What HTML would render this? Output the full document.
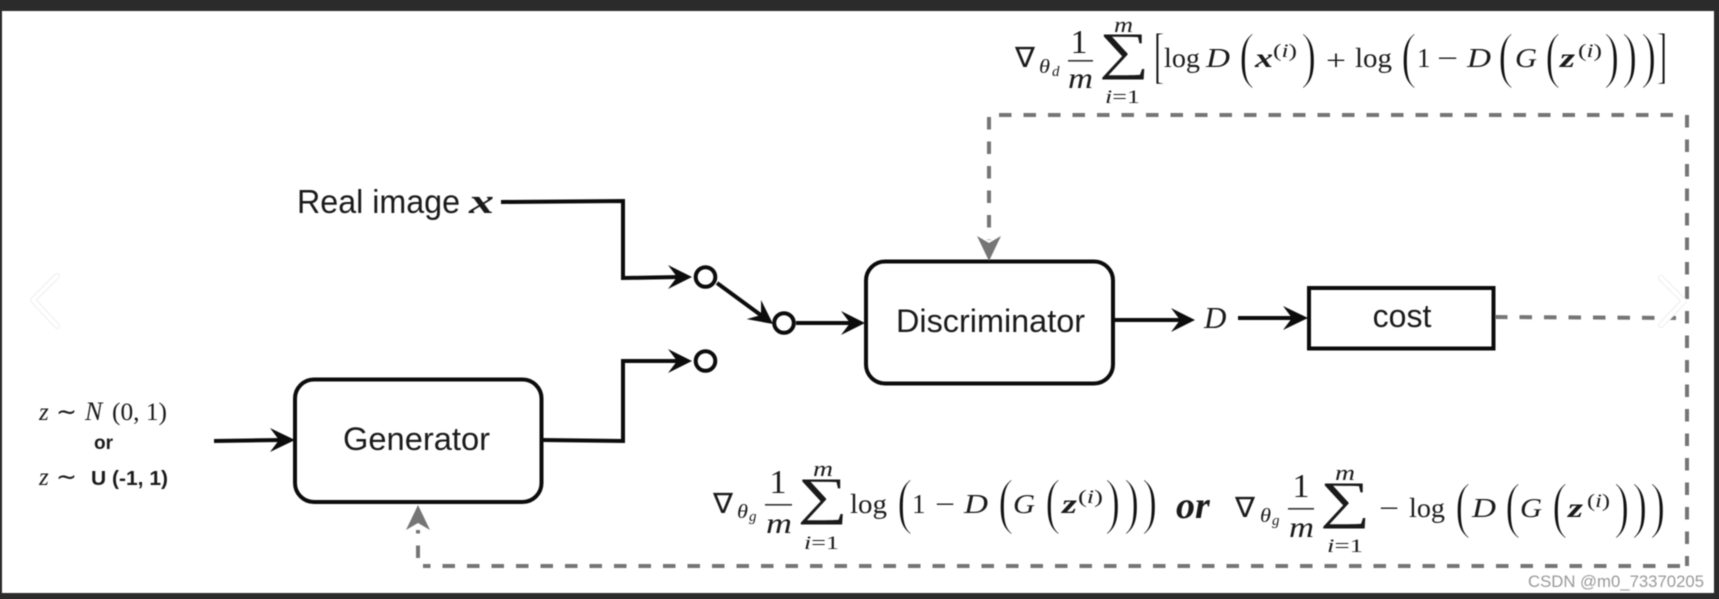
<!DOCTYPE html>
<html><head><meta charset="utf-8"><style>
html,body{margin:0;padding:0;background:#2b2b2b;width:1719px;height:599px;overflow:hidden}
svg{display:block;position:absolute;left:0;top:0;filter:blur(.45px)}
text{font-family:"Liberation Serif",serif;fill:#1a1a1a}
.s{font-family:"Liberation Sans",sans-serif}
.i{font-style:italic}
.bi{font-style:italic;font-weight:bold}
.l{fill:none;stroke:#0c0c0c;stroke-width:4}
.d{fill:none;stroke:#757575;stroke-width:4;stroke-dasharray:12.5 12}
.p{font-size:62px;fill:#111;stroke:#fff;stroke-width:1.6px}
.f{font-size:27px}
.v{font-size:28px}
.n{font-size:30px;font-style:italic}
.o{font-size:34px}
.t{font-size:22px;font-style:italic}
.u{font-size:19px}
.q{font-size:19px}
</style></head><body>
<svg width="1719" height="599" viewBox="0 0 1719 599" xmlns="http://www.w3.org/2000/svg">
<rect x="2" y="11" width="1712" height="582" fill="#fff"/>

<!-- chevrons -->
<g fill="none" stroke-linecap="round" stroke-linejoin="round">
<path d="M57 276 L33 300 L57 326" stroke="#eee" stroke-width="6"/>
<path d="M57 276 L33 300 L57 326" stroke="#fff" stroke-width="4"/>
</g>

<!-- boxes -->
<rect x="295" y="379.500" width="246.500" height="122.500" rx="19" fill="#fff" stroke="#0c0c0c" stroke-width="4"/>
<rect x="866" y="261.500" width="247" height="122" rx="19" fill="#fff" stroke="#0c0c0c" stroke-width="4"/>
<rect x="1309" y="288" width="184.500" height="60.500" fill="#fff" stroke="#0c0c0c" stroke-width="4"/>
<text class="s" x="343" y="450" font-size="32" textLength="147" lengthAdjust="spacingAndGlyphs">Generator</text>
<text class="s" x="896" y="332" font-size="32" textLength="189" lengthAdjust="spacingAndGlyphs">Discriminator</text>
<text class="s" x="1402" y="327" font-size="32" text-anchor="middle">cost</text>
<text class="s" x="297" y="213" font-size="33" textLength="163" lengthAdjust="spacingAndGlyphs">Real image</text>
<text class="bi" x="469" y="213" font-size="35" textLength="25" lengthAdjust="spacingAndGlyphs">x</text>
<text class="i" x="1204" y="328" font-size="31">D</text>

<!-- solid connectors -->
<path class="l" d="M501 202 L623 201 V278 L680 277"/>
<path class="l" d="M542 440 L623 441 V361 L680 361"/>
<path class="l" d="M214 441 L282 440"/>
<path class="l" d="M717 283 L762 316"/>
<path class="l" d="M796 323 L850 323"/>
<path class="l" d="M1113 320 L1182 320"/>
<path class="l" d="M1238 318 L1295 318"/>
<g fill="#0c0c0c">
<polygon points="692,277 668,265 677,277 668,289"/>
<polygon points="692,361 668,349 677,361 668,373"/>
<polygon points="295,440 270,428 279,440 270,452"/>
<polygon points="865,323 841,311 850,323 841,335"/>
<polygon points="1195,320 1171,308 1180,320 1171,332"/>
<polygon points="1308,318 1283,306 1292,318 1283,330"/>
<polygon points="773,324 749,312 758,324 749,336" transform="rotate(37 773 324)"/>
</g>
<g fill="#fff" stroke="#0c0c0c" stroke-width="4">
<circle cx="705.500" cy="277" r="9.800"/>
<circle cx="784" cy="323" r="9.800"/>
<circle cx="705.500" cy="361" r="9.800"/>
</g>

<!-- dashed connectors -->
<path class="d" d="M1495 317 L1676 318"/>
<path class="d" d="M1673 115 L997 115"/>
<path class="d" d="M989 117 V240"/>
<path class="d" d="M1687 115 V566"/>
<path class="d" d="M1680 566 L423 566"/>
<path class="d" d="M418 558 V530"/>
<g fill="#757575">
<polygon points="989,261 977,236 989,243 1001,236"/>
<polygon points="418,505 406,530 418,523 430,530"/>
</g>
<g fill="none" stroke-linecap="round" stroke-linejoin="round">
<path d="M1661 278 L1684 301 L1661 325" stroke="#eee" stroke-width="6"/>
<path d="M1661 278 L1684 301 L1661 325" stroke="#fff" stroke-width="4"/>
</g>

<!-- left formula -->
<text class="i" x="39" y="420" font-size="25">z</text>
<text x="56" y="420" font-size="25">∼</text>
<text class="i" x="85" y="420" font-size="26">N</text>
<text x="112" y="420" font-size="25" textLength="55" lengthAdjust="spacingAndGlyphs">(0, 1)</text>
<text class="s" x="103.500" y="449" font-size="19" font-weight="bold" text-anchor="middle">or</text>
<text class="i" x="39" y="485" font-size="25">z</text>
<text x="56" y="485" font-size="25">∼</text>
<text class="s" x="91" y="485" font-size="20" font-weight="bold" textLength="77" lengthAdjust="spacingAndGlyphs">U (-1, 1)</text>

<!-- top formula -->
<text class="v" x="1015" y="67" textLength="20" lengthAdjust="spacingAndGlyphs">∇</text>
<text class="i" x="1039" y="73" font-size="20" textLength="11" lengthAdjust="spacingAndGlyphs">θ</text>
<text class="i" x="1052" y="76" font-size="15">d</text>
<text class="o" x="1079" y="53" text-anchor="middle">1</text>
<rect x="1068" y="60" width="25" height="1.600" fill="#333"/>
<text class="n" x="1068" y="88" textLength="25" lengthAdjust="spacingAndGlyphs">m</text>
<text font-size="52" text-anchor="middle" transform="translate(1124 68.500) scale(1.35 1)">∑</text>
<text class="t" x="1114" y="32" textLength="19" lengthAdjust="spacingAndGlyphs">m</text>
<text class="u" x="1105" y="103" textLength="35" lengthAdjust="spacingAndGlyphs"><tspan class="i">i</tspan>=1</text>
<text class="p" x="1153" y="76" textLength="13" lengthAdjust="spacingAndGlyphs">[</text>
<text class="f" x="1164" y="67" textLength="36" lengthAdjust="spacingAndGlyphs">log</text>
<text class="f i" x="1206" y="67" textLength="24" lengthAdjust="spacingAndGlyphs">D</text>
<text class="p" x="1239" y="76" textLength="15.500" lengthAdjust="spacingAndGlyphs">(</text>
<text class="f bi" x="1255" y="67" textLength="18" lengthAdjust="spacingAndGlyphs">x</text>
<text class="q" x="1273" y="57" textLength="24" lengthAdjust="spacingAndGlyphs">(<tspan class="i">i</tspan>)</text>
<text class="p" x="1301" y="76" textLength="15.500" lengthAdjust="spacingAndGlyphs">)</text>
<text x="1326" y="70" font-size="29" textLength="20" lengthAdjust="spacingAndGlyphs">+</text>
<text class="f" x="1355" y="67" textLength="37" lengthAdjust="spacingAndGlyphs">log</text>
<text class="p" x="1401" y="76" textLength="15.500" lengthAdjust="spacingAndGlyphs">(</text>
<text class="f" x="1417" y="67">1</text>
<text class="f" x="1437" y="67" textLength="21" lengthAdjust="spacingAndGlyphs">−</text>
<text class="f i" x="1467" y="67" textLength="24" lengthAdjust="spacingAndGlyphs">D</text>
<text class="p" x="1498" y="76" textLength="15.500" lengthAdjust="spacingAndGlyphs">(</text>
<text class="f i" x="1515" y="67" textLength="22" lengthAdjust="spacingAndGlyphs">G</text>
<text class="p" x="1545" y="76" textLength="15.500" lengthAdjust="spacingAndGlyphs">(</text>
<text class="f bi" x="1560" y="67" textLength="15" lengthAdjust="spacingAndGlyphs">z</text>
<text class="q" x="1578" y="57" textLength="24" lengthAdjust="spacingAndGlyphs">(<tspan class="i">i</tspan>)</text>
<text class="p" x="1604" y="76" textLength="15.500" lengthAdjust="spacingAndGlyphs">)</text>
<text class="p" x="1622" y="76" textLength="15.500" lengthAdjust="spacingAndGlyphs">)</text>
<text class="p" x="1641" y="76" textLength="15.500" lengthAdjust="spacingAndGlyphs">)</text>
<text class="p" x="1655" y="76" textLength="13" lengthAdjust="spacingAndGlyphs">]</text>

<!-- bottom formula left -->
<text class="v" x="713" y="513" textLength="20" lengthAdjust="spacingAndGlyphs">∇</text>
<text class="i" x="737" y="518" font-size="20" textLength="11" lengthAdjust="spacingAndGlyphs">θ</text>
<text class="i" x="749" y="521" font-size="15">g</text>
<text class="o" x="778" y="493" text-anchor="middle">1</text>
<rect x="765" y="504" width="27" height="1.600" fill="#333"/>
<text class="n" x="766" y="533" textLength="26" lengthAdjust="spacingAndGlyphs">m</text>
<text font-size="52" text-anchor="middle" transform="translate(822.500 513.500) scale(1.35 1)">∑</text>
<text class="t" x="813" y="476" textLength="20" lengthAdjust="spacingAndGlyphs">m</text>
<text class="u" x="804" y="549" textLength="35" lengthAdjust="spacingAndGlyphs"><tspan class="i">i</tspan>=1</text>
<text class="f" x="850" y="513" textLength="37" lengthAdjust="spacingAndGlyphs">log</text>
<text class="p" x="897" y="522" textLength="15.500" lengthAdjust="spacingAndGlyphs">(</text>
<text class="f" x="912" y="513">1</text>
<text class="f" x="935" y="513" textLength="20" lengthAdjust="spacingAndGlyphs">−</text>
<text class="f i" x="964" y="513" textLength="24" lengthAdjust="spacingAndGlyphs">D</text>
<text class="p" x="998" y="522" textLength="15.500" lengthAdjust="spacingAndGlyphs">(</text>
<text class="f i" x="1013" y="513" textLength="22" lengthAdjust="spacingAndGlyphs">G</text>
<text class="p" x="1045" y="522" textLength="15.500" lengthAdjust="spacingAndGlyphs">(</text>
<text class="f bi" x="1062" y="513" textLength="15" lengthAdjust="spacingAndGlyphs">z</text>
<text class="q" x="1078" y="503" textLength="25" lengthAdjust="spacingAndGlyphs">(<tspan class="i">i</tspan>)</text>
<text class="p" x="1105" y="522" textLength="15.500" lengthAdjust="spacingAndGlyphs">)</text>
<text class="p" x="1124" y="522" textLength="15.500" lengthAdjust="spacingAndGlyphs">)</text>
<text class="p" x="1142" y="522" textLength="15.500" lengthAdjust="spacingAndGlyphs">)</text>
<text class="bi" x="1176" y="518" font-size="38">or</text>

<!-- bottom formula right -->
<text class="v" x="1235" y="517" textLength="20" lengthAdjust="spacingAndGlyphs">∇</text>
<text class="i" x="1260" y="522" font-size="20" textLength="11" lengthAdjust="spacingAndGlyphs">θ</text>
<text class="i" x="1272" y="525" font-size="15">g</text>
<text class="o" x="1301" y="497" text-anchor="middle">1</text>
<rect x="1288" y="508" width="26" height="1.600" fill="#333"/>
<text class="n" x="1289" y="537" textLength="25" lengthAdjust="spacingAndGlyphs">m</text>
<text font-size="52" text-anchor="middle" transform="translate(1345 517.500) scale(1.35 1)">∑</text>
<text class="t" x="1335" y="480" textLength="20" lengthAdjust="spacingAndGlyphs">m</text>
<text class="u" x="1327" y="552" textLength="36" lengthAdjust="spacingAndGlyphs"><tspan class="i">i</tspan>=1</text>
<text class="f" x="1379" y="517" textLength="20" lengthAdjust="spacingAndGlyphs">−</text>
<text class="f" x="1409" y="517" textLength="36" lengthAdjust="spacingAndGlyphs">log</text>
<text class="p" x="1455" y="526" textLength="15.500" lengthAdjust="spacingAndGlyphs">(</text>
<text class="f i" x="1472" y="517" textLength="24" lengthAdjust="spacingAndGlyphs">D</text>
<text class="p" x="1505" y="526" textLength="15.500" lengthAdjust="spacingAndGlyphs">(</text>
<text class="f i" x="1520" y="517" textLength="22" lengthAdjust="spacingAndGlyphs">G</text>
<text class="p" x="1552" y="526" textLength="15.500" lengthAdjust="spacingAndGlyphs">(</text>
<text class="f bi" x="1568" y="517" textLength="15" lengthAdjust="spacingAndGlyphs">z</text>
<text class="q" x="1587" y="507" textLength="23" lengthAdjust="spacingAndGlyphs">(<tspan class="i">i</tspan>)</text>
<text class="p" x="1614" y="526" textLength="15.500" lengthAdjust="spacingAndGlyphs">)</text>
<text class="p" x="1632" y="526" textLength="15.500" lengthAdjust="spacingAndGlyphs">)</text>
<text class="p" x="1650" y="526" textLength="15.500" lengthAdjust="spacingAndGlyphs">)</text>

<text class="s" x="1528" y="587" font-size="17" style="fill:#999" textLength="176" lengthAdjust="spacingAndGlyphs">CSDN @m0_73370205</text>
</svg>
</body></html>
